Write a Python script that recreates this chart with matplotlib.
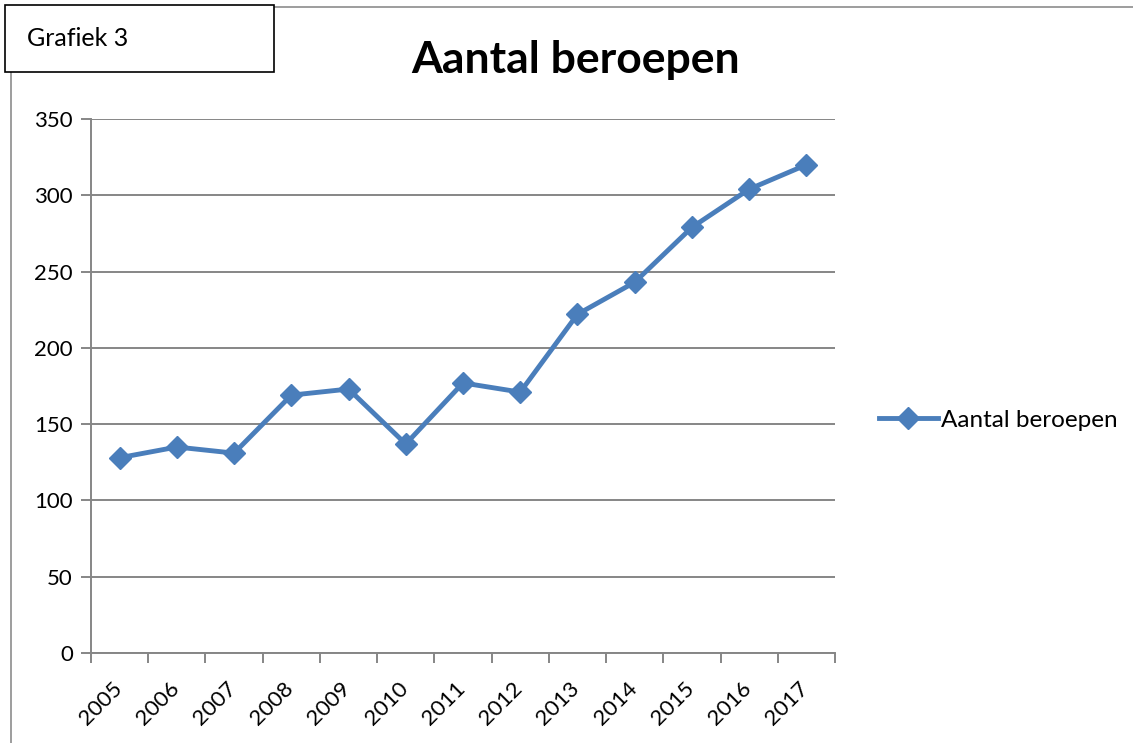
import matplotlib
matplotlib.use("Agg")
from matplotlib import pyplot as plt
from matplotlib.patches import Rectangle
from matplotlib.transforms import ScaledTranslation

# data
years = ["2005", "2006", "2007", "2008", "2009", "2010", "2011",
         "2012", "2013", "2014", "2015", "2016", "2017"]
beroepen = [128, 135, 131, 169, 173, 137, 177, 171, 222, 243, 279, 304, 320]
y_ticks = [0, 50, 100, 150, 200, 250, 300, 350]

plt.rcParams['font.family'] = ['Lato', 'DejaVu Sans']

W, H = 1133, 743
fig = plt.figure(figsize=(W / 100, H / 100), dpi=100, facecolor='w')

# outer chart border (gray), partly hidden by the label box
fig.add_artist(Rectangle((11 / W, -0.05), 1.2, (H - 7) / H + 0.05,
                         transform=fig.transFigure, fill=False,
                         edgecolor='#8c8c8c', linewidth=1.2))
# "Grafiek 3" box
fig.add_artist(Rectangle((5 / W, 1 - 72 / H), 269 / W, 67 / H,
                         transform=fig.transFigure, facecolor='w',
                         edgecolor='black', linewidth=1.2, zorder=5))
fig.text(27 / W, 1 - 38 / H, "Grafiek 3", fontsize=18, va='center',
         ha='left', zorder=6)

ax = fig.add_axes([91 / W, 90 / H, (835 - 91) / W, (653 - 119) / H])

x = list(range(len(years)))
ax.plot(x, beroepen, color='#4A7EBB', linewidth=3.5, marker='D',
        markersize=11, label='Aantal beroepen', zorder=3)

ax.set_xlim(-0.5, len(years) - 0.5)
ax.set_ylim(0, 350)
ax.set_yticks(y_ticks)
ax.set_yticklabels([str(v) for v in y_ticks], fontsize=16)

# category axis: ticks between categories, labels at centres
ax.set_xticks([i - 0.5 for i in range(len(years) + 1)])
ax.set_xticklabels([])
ax.set_xticks(x, minor=True)
ax.set_xticklabels(years, minor=True, rotation=45, ha='right',
                   rotation_mode='anchor', fontsize=16)
ax.tick_params(axis='x', which='minor', length=0, pad=18)
ax.tick_params(axis='x', which='major', length=7, color='#868686', width=1.4)
ax.tick_params(axis='y', length=7, color='#868686', width=1.4, pad=6)

# nudge the slanted year labels a bit to the left
shift = ScaledTranslation(-8 / 100, 0, fig.dpi_scale_trans)
for lbl in ax.get_xticklabels(minor=True):
    lbl.set_transform(lbl.get_transform() + shift)

ax.yaxis.grid(True, color='#868686', linewidth=1.4)
ax.set_axisbelow(True)
for side in ['top', 'right']:
    ax.spines[side].set_visible(False)
for side in ['left', 'bottom']:
    ax.spines[side].set_color('#868686')
    ax.spines[side].set_linewidth(1.4)

fig.text(576 / W, 1 - 60 / H, "Aantal beroepen", fontsize=32,
         fontweight='bold', ha='center', va='center')

ax.legend(loc='center left', bbox_to_anchor=(1.03, 0.436), frameon=False,
          fontsize=17.5, handlelength=2.4, handletextpad=0.15)

fig.savefig("out.png", dpi=100)
